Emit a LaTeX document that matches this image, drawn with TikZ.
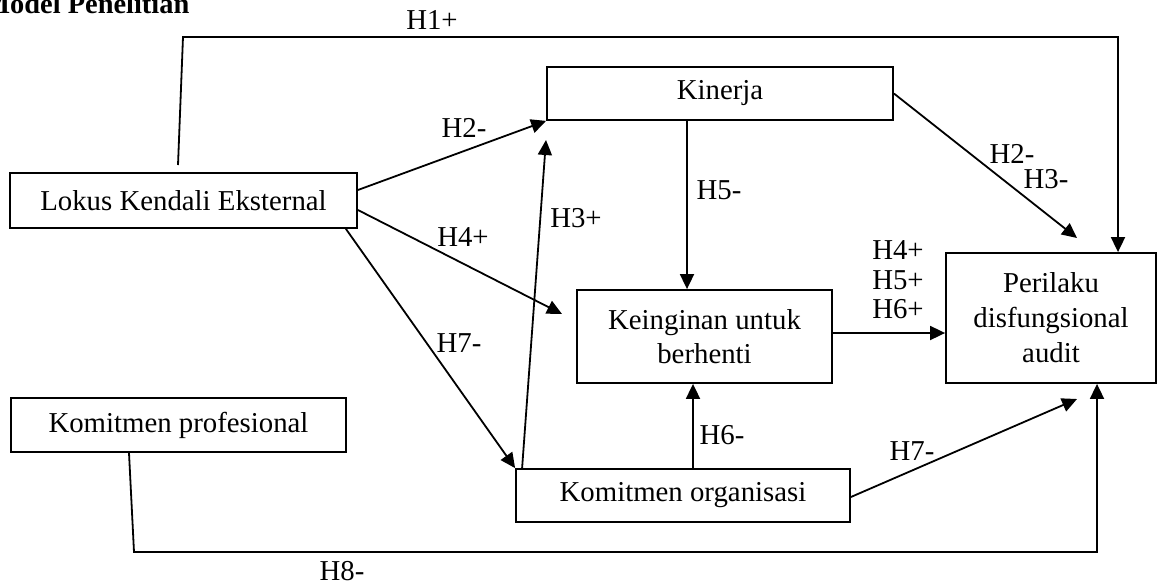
\documentclass[tikz,border=0pt]{standalone}
\usepackage{fontspec}
\setmainfont{Liberation Serif}
\usetikzlibrary{arrows.meta}
\begin{document}
\begin{tikzpicture}[x=0.5pt,y=-0.5pt,
  box/.style={draw, line width=0.9pt, inner sep=0pt, font=\fontsize{14.4}{17.5}\selectfont, align=center},
  lbl/.style={inner sep=0pt, font=\fontsize{14.4}{17}\selectfont},
  arr/.style={line width=0.9pt, -{Triangle[length=7.5pt,width=7pt]}}]
\useasboundingbox (0,0) rectangle (1157,584);

% title (partly cut off at the page edge, as in the reference)
\node[anchor=base west, inner sep=0pt, font=\fontsize{14.2}{17}\selectfont\bfseries] (title) at (-17,13) {Model Penelitian};

% boxes
\node[box, minimum width=173.5pt, minimum height=27.5pt] (lokus) at (183.5,200.5) {Lokus Kendali Eksternal};
\node[box, minimum width=167.5pt, minimum height=27pt] (kprof) at (178.5,425) {Komitmen profesional};
\node[box, minimum width=173pt, minimum height=26.5pt] (kinerja) at (720,93.5) {Kinerja};
\node[box, minimum width=127.5pt, minimum height=46.5pt, font=\fontsize{14.4}{17}\selectfont] (keing) at (704.5,336.5) {Keinginan untuk\\berhenti};
\node[box, minimum width=167pt, minimum height=26.5pt] (korg) at (683,495.5) {Komitmen organisasi};
\node[box, minimum width=105pt, minimum height=65pt] (peril) at (1051,318) {Perilaku\\disfungsional\\audit};

% H1+
\coordinate (h1s) at (178,165);
\coordinate (h1a) at (183,37);
\coordinate (h1b) at (1118,37);
\draw[arr] (h1s) -- (h1a) -- (h1b) -- (h1b |- peril.north);
\node[lbl] (lh1) at (432,20) {H1+};

% H2- (Lokus -> Kinerja)
\draw[arr] ([yshift=5.25pt]lokus.east) -- (kinerja.south west);
\node[lbl] (lh2a) at (464,128) {H2-};

% H3+ (Komitmen organisasi -> Kinerja)
\coordinate (h3t) at (546,140);
\draw[arr] ([xshift=3.5pt]korg.north west) -- (h3t);
\node[lbl] (lh3a) at (576,218) {H3+};

% H4+ (Lokus -> Keinginan)
\coordinate (h4t) at (562,314);
\draw[arr] ([yshift=-4.75pt]lokus.east) -- (h4t);
\node[lbl] (lh4a) at (463,237) {H4+};

% H7- (Lokus -> Komitmen organisasi)
\draw[arr] ([xshift=-6pt]lokus.south east) -- (korg.north west);
\node[lbl] (lh7a) at (459,343) {H7-};

% H5- (Kinerja -> Keinginan)
\draw[arr] ([xshift=-16.5pt]kinerja.south) -- ([xshift=-16.5pt]kinerja.south |- keing.north);
\node[lbl] (lh5a) at (719,190) {H5-};

% H6- (Komitmen organisasi -> Keinginan)
\draw[arr] ([xshift=5pt]korg.north) -- ([xshift=5pt]korg.north |- keing.south);
\node[lbl] (lh6a) at (722,435) {H6-};

% Keinginan -> Perilaku
\draw[arr] ([yshift=1.75pt]keing.east) -- ([yshift=1.75pt]keing.east -| peril.west);
\node[lbl, align=center, font=\fontsize{14.4}{14.75}\selectfont] (lh456) at (898,280) {H4+\\H5+\\H6+};

% Kinerja -> Perilaku
\coordinate (h2t) at (1077,238);
\draw[arr] (kinerja.east) -- (h2t);
\node[lbl] (lh2b) at (1012,154) {H2-};
\node[lbl] (lh3b) at (1046,179) {H3-};

% Komitmen organisasi -> Perilaku
\coordinate (h7t) at (1077,399);
\draw[arr] ([yshift=-0.75pt]korg.east) -- (h7t);
\node[lbl] (lh7b) at (912,451) {H7-};

% H8- (Komitmen profesional -> Perilaku)
\coordinate (h8a) at (134,552);
\coordinate (h8b) at (1097,552);
\draw[arr] ([xshift=-24.75pt]kprof.south) -- (h8a) -- (h8b) -- (h8b |- peril.south);
\node[lbl] (lh8) at (342,571) {H8-};
\end{tikzpicture}
\end{document}
